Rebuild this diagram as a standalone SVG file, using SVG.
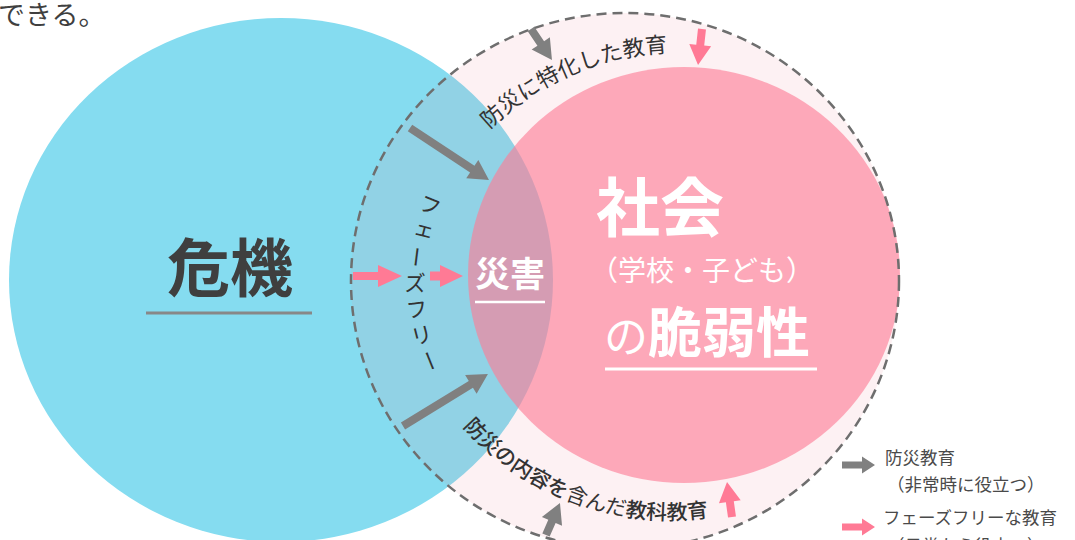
<svg xmlns="http://www.w3.org/2000/svg" width="1077" height="540" viewBox="0 0 1077 540">
  <style>
    text { font-family: 'Noto Sans CJK JP', 'Noto Sans', sans-serif; }
    .dark { fill: #3f3f3f; }
    .white { fill: #ffffff; }
    .arc { fill: #333333; font-size: 22px; }
    .arcb { fill: #333333; font-size: 21px; }
    .vt { fill: #333333; font-size: 22px; writing-mode: vertical-rl; text-anchor: middle; }
    .leg { fill: #4a4a4a; font-size: 17.5px; }
    .ga { fill: #808080; }
    .pa { fill: #ff7a95; }
  </style>
  <defs>
    <path id="topArc" d="M 409.2 280.1 A 276 276 0 0 1 952.8 280.1" fill="none"/>
    <path id="botArc" d="M 399.2 293.6 A 274 274 0 0 0 938.8 293.6" fill="none"/>
  </defs>

  <rect x="0" y="0" width="1077" height="540" fill="#ffffff"/>
  <line x1="1076" y1="0" x2="1076" y2="540" stroke="#ffc2d0" stroke-width="2"/>

  <text x="-2" y="25" font-size="27" class="dark">できる。</text>

  <g id="crisis">
    <ellipse cx="281" cy="280" rx="272" ry="262" fill="#85dcf0"/>
  </g>
  <g id="education-ring">
    <ellipse cx="625" cy="281" rx="274" ry="268" fill="#f0889c" fill-opacity="0.12"/>
  </g>
  <g id="vulnerability">
    <ellipse cx="684" cy="275" rx="216" ry="208" fill="#fd7d96" fill-opacity="0.63"/>
  </g>
  <ellipse cx="625" cy="281" rx="274" ry="268" fill="none" stroke="#6e6e6e" stroke-width="2.5" stroke-dasharray="10 6"/>

  <g id="crisis-label">
    <text x="230" y="291" font-size="63" font-weight="bold" text-anchor="middle" class="dark">危機</text>
    <line x1="146" y1="313" x2="312" y2="313" stroke="#888888" stroke-width="3"/>
  </g>

  <g id="disaster-label">
    <text x="510" y="287" font-size="35" font-weight="bold" text-anchor="middle" class="white">災害</text>
    <line x1="475" y1="302" x2="545" y2="302" stroke="#ffffff" stroke-width="2.5"/>
  </g>

  <g id="society-label">
    <text x="660" y="231" font-size="64" font-weight="bold" text-anchor="middle" class="white">社会</text>
    <text x="702" y="281" font-size="28" text-anchor="middle" class="white">（学校・子ども）</text>
    <text x="604" y="353" class="white"><tspan font-size="44">の</tspan><tspan font-size="54" font-weight="bold">脆弱性</tspan></text>
    <line x1="605" y1="369" x2="817" y2="369" stroke="#ffffff" stroke-width="3"/>
  </g>

  <g id="top-ring-label">
    <text class="arc"><textPath href="#topArc" startOffset="272.7" text-anchor="middle">防災に特化した教育</textPath></text>
  </g>
  <g id="bottom-ring-label">
    <text class="arcb"><textPath href="#botArc" startOffset="285.5" text-anchor="middle"><tspan font-weight="500">防災の内容を</tspan>含んだ<tspan font-weight="500">教科教育</tspan></textPath></text>
  </g>

  <g id="phase-free-label">
    <text class="vt" transform="translate(430,205) rotate(21.8)">フ</text>
    <text class="vt" transform="translate(421.5,231) rotate(14.3)">ェ</text>
    <text class="vt" transform="translate(416.6,257) rotate(7.1)">ー</text>
    <text class="vt" transform="translate(415,283)">ズ</text>
    <text class="vt" transform="translate(416.6,309) rotate(-7.1)">フ</text>
    <text class="vt" transform="translate(421.5,335) rotate(-14.3)">リ</text>
    <text class="vt" transform="translate(430,361) rotate(-21.8)">ー</text>
  </g>

  <g id="connectors">
    <path class="ga" transform="translate(410,128) rotate(33.4)" d="M0,-4 H74.6 V-11 L94.6,0 L74.6,11 V4 H0 Z"/>
    <path class="ga" transform="translate(403,426) rotate(-31.5)" d="M0,-4 H79.6 V-11 L99.6,0 L79.6,11 V4 H0 Z"/>
    <path class="ga" transform="translate(531,29) rotate(55.9)" d="M0,-4 H17.4 V-11 L37.4,0 L17.4,11 V4 H0 Z"/>
    <path class="ga" transform="translate(546,535) rotate(-66.4)" d="M0,-4 H14.9 V-11 L34.9,0 L14.9,11 V4 H0 Z"/>
    <path class="pa" transform="translate(702,29) rotate(96.3)" d="M0,-4 H16.2 V-11 L36.2,0 L16.2,11 V4 H0 Z"/>
    <path class="pa" transform="translate(732,517) rotate(-98.1)" d="M0,-4 H15.4 V-11 L35.4,0 L15.4,11 V4 H0 Z"/>
    <path class="pa" transform="translate(353,276)" d="M0,-4 H25 V-11 L49,0 L25,11 V4 H0 Z"/>
    <path class="pa" transform="translate(430,276)" d="M0,-4.5 H10 V-11 L33,0 L10,11 V4.5 H0 Z"/>
  </g>

  <g id="legend">
    <path class="ga" transform="translate(842,465)" d="M0,-3.5 H20 V-8.5 L33,0 L20,8.5 V3.5 H0 Z"/>
    <text x="885" y="464" class="leg">防災教育</text>
    <text x="887" y="491" class="leg">（非常時に役立つ）</text>
    <path class="pa" transform="translate(842,527)" d="M0,-3.5 H20 V-8.5 L33,0 L20,8.5 V3.5 H0 Z"/>
    <text x="883" y="524" class="leg">フェーズフリーな教育</text>
    <text x="887" y="552" class="leg">（日常から役立つ）</text>
  </g>
</svg>
